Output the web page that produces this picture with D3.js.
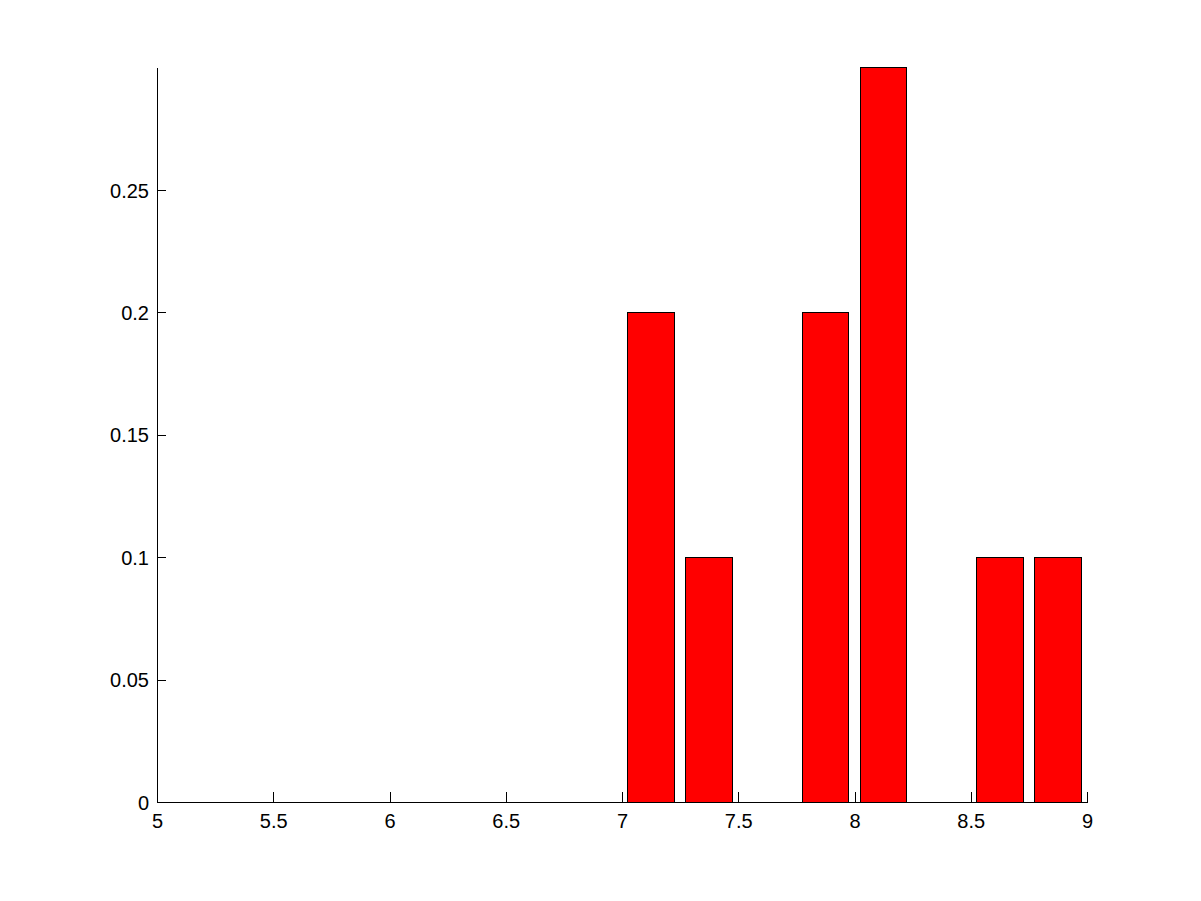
<!DOCTYPE html>
<html>
<head>
<meta charset="utf-8">
<script src="https://cdn.jsdelivr.net/npm/d3@7"></script>
<style>
  html, body { margin: 0; padding: 0; background: #fff; }
  svg { display: block; }
  text { font-family: "Liberation Sans", Arial, Helvetica, sans-serif; font-size: 20px; fill: #000; }
  rect, line, path { shape-rendering: crispEdges; }
</style>
</head>
<body>
<script>
// Data
const binCenters = [5.125, 5.375, 5.625, 5.875, 6.125, 6.375, 6.625, 6.875,
                    7.125, 7.375, 7.625, 7.875, 8.125, 8.375, 8.625, 8.875];
const binValues  = [0, 0, 0, 0, 0, 0, 0, 0,
                    0.2, 0.1, 0, 0.2, 0.3, 0, 0.1, 0.1];
const xTicks = [5, 5.5, 6, 6.5, 7, 7.5, 8, 8.5, 9];
const yTicks = [0, 0.05, 0.1, 0.15, 0.2, 0.25];
const binWidth = 0.25;
const barFraction = 0.8;

const W = 1201, H = 901;
const mLeft = 157, mRight = 1087, mTop = 67.6, mBottom = 802;

const svg = d3.select("body").append("svg").attr("width", W).attr("height", H);

const x = d3.scaleLinear().domain([5, 9]).range([mLeft, mRight]);
const y = d3.scaleLinear().domain([0, 0.3]).range([mBottom, mTop]);

// Bars
svg.append("g").selectAll("rect")
  .data(binCenters.map((c, i) => ({c, v: binValues[i]})).filter(d => d.v > 0))
  .join("rect")
  .attr("x", d => x(d.c - binWidth * barFraction / 2))
  .attr("width", d => x(d.c + binWidth * barFraction / 2) - x(d.c - binWidth * barFraction / 2))
  .attr("y", d => y(d.v))
  .attr("height", d => y(0) - y(d.v))
  .attr("fill", "#ff0000")
  .attr("stroke", "#000")
  .attr("stroke-width", 1);

// X axis (ticks pointing inward)
const xAxis = svg.append("g").attr("transform", `translate(0,${mBottom})`)
  .call(d3.axisBottom(x).tickValues(xTicks).tickFormat(d3.format("")).tickSizeInner(-10).tickSizeOuter(0).tickPadding(0));
xAxis.select(".domain").attr("stroke", "#000");
xAxis.selectAll(".tick line").attr("stroke", "#000");
xAxis.selectAll(".tick text").attr("y", 26).attr("dy", 0).style("font-size", "20px")
  .style("font-family", '"Liberation Sans", Arial, sans-serif');

// Y axis (ticks pointing inward)
const yAxis = svg.append("g").attr("transform", `translate(${mLeft},0)`)
  .call(d3.axisLeft(y).tickValues(yTicks).tickFormat(d3.format("")).tickSizeInner(-9).tickSizeOuter(0).tickPadding(0));
yAxis.select(".domain").attr("stroke", "#000");
yAxis.selectAll(".tick line").attr("stroke", "#000");
yAxis.selectAll(".tick text").attr("x", -8).attr("dy", "0.35em").style("font-size", "20px")
  .style("font-family", '"Liberation Sans", Arial, sans-serif');
</script>
</body>
</html>
